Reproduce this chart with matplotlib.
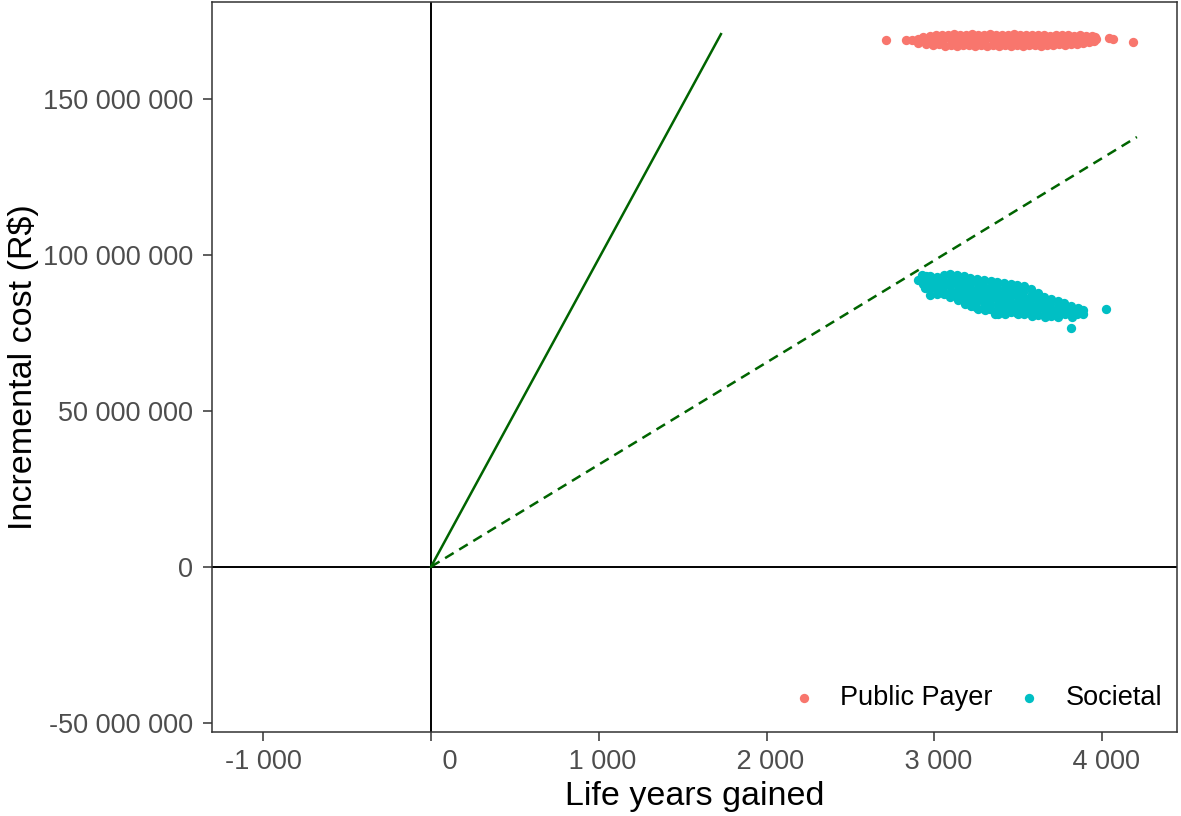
import numpy as np
import matplotlib
matplotlib.use("Agg")
import matplotlib.pyplot as plt

# ---------------- data ----------------
series_names = ["Public Payer", "Societal"]
series_colors = ["#F8766D", "#00BFC4"]

# Public Payer: life years gained / incremental cost (R$ millions)
pp_ly = [2710, 2831, 2868, 4038, 4062, 4185,
         2935, 2972, 3008, 3044, 3081, 3117, 3152, 3189, 3225, 3260,
         3296, 3333, 3368, 3404, 3440, 3475, 3511, 3547, 3582, 3618,
         3654, 3689, 3725, 3760, 3796, 3831, 3867, 3902, 3938, 3955,
         2905, 2941, 2978, 3012, 3049, 3086, 3120, 3157, 3193, 3228,
         3262, 3299, 3335, 3370, 3406, 3441, 3477, 3512, 3548, 3583,
         3619, 3655, 3690, 3726, 3761, 3797, 3832, 3868, 3903, 3940, 3962,
         2900, 2950, 2990, 3025, 3062, 3098, 3135, 3170, 3206, 3242,
         3278, 3313, 3350, 3386, 3421, 3457, 3493, 3528, 3564, 3600,
         3635, 3671, 3707, 3743, 3778, 3815, 3850, 3886, 3921, 3950]
pp_cost_mi = [168.9, 168.8, 169.0, 169.5, 169.2, 168.4,
              170.0, 170.3, 170.5, 170.6, 170.4, 170.7, 170.5, 170.6, 170.7, 170.4,
              170.6, 170.7, 170.5, 170.6, 170.4, 170.7, 170.5, 170.6, 170.4, 170.6,
              170.5, 170.3, 170.6, 170.4, 170.5, 170.3, 170.4, 170.2, 170.3, 170.0,
              169.2, 169.0, 169.3, 168.9, 169.1, 169.4, 168.8, 169.2, 169.0, 169.3,
              168.9, 169.1, 169.4, 169.0, 168.8, 169.2, 169.0, 169.3, 168.9, 169.1,
              169.2, 168.9, 169.1, 169.3, 169.0, 168.8, 169.2, 169.0, 169.1, 168.9, 169.2,
              168.0, 167.6, 167.3, 167.5, 167.1, 167.3, 167.0, 167.4, 167.2, 167.0,
              167.3, 167.1, 167.4, 167.0, 167.2, 167.1, 167.3, 167.0, 167.2, 167.4,
              167.1, 167.3, 167.2, 167.5, 167.3, 167.6, 167.6, 167.9, 168.2, 168.6]

# Societal
soc_ly = [2903, 2924, 2935,
          2950, 2946, 2942,
          2975, 2979, 2972, 2974,
          3015, 3018, 3012, 3016,
          3055, 3051, 3058, 3053, 3057,
          3095, 3099, 3092, 3097, 3094,
          3135, 3131, 3138, 3133, 3137, 3140,
          3175, 3179, 3172, 3177, 3174, 3180,
          3215, 3211, 3218, 3213, 3217, 3220,
          3255, 3259, 3252, 3257, 3254, 3250, 3262,
          3295, 3291, 3298, 3293, 3297, 3294, 3300,
          3335, 3339, 3332, 3337, 3334, 3331, 3361,
          3375, 3371, 3378, 3373, 3377, 3374, 3380,
          3415, 3419, 3412, 3417, 3414, 3411, 3421,
          3455, 3451, 3458, 3453, 3457, 3454,
          3495, 3499, 3492, 3497, 3494, 3491, 3500,
          3535, 3531, 3538, 3533, 3537, 3534,
          3575, 3579, 3572, 3577, 3574, 3580,
          3615, 3611, 3618, 3613, 3617,
          3655, 3659, 3652, 3657, 3660,
          3695, 3691, 3698, 3693,
          3735, 3739, 3732, 3737,
          3775, 3771, 3778,
          3815, 3811, 3818,
          3855, 3851,
          3888, 3885,
          4021, 3812]
soc_cost_mi = [91.9, 93.4, 90.8,
               93.2, 91.5, 89.5,
               93.1, 91.3, 89.3, 87.1,
               93.0, 91.2, 89.4, 87.6,
               93.5, 91.7, 89.9, 88.1, 87.3,
               93.8, 92.0, 90.2, 88.4, 86.6,
               93.6, 91.8, 90.0, 88.2, 86.4, 85.4,
               93.2, 91.4, 89.6, 87.8, 86.0, 84.3,
               92.7, 90.9, 89.1, 87.3, 85.5, 83.6,
               92.4, 90.6, 88.8, 87.0, 85.2, 83.4, 82.8,
               92.0, 90.2, 88.4, 86.6, 84.8, 83.0, 82.3,
               91.6, 89.8, 88.0, 86.2, 84.4, 82.6, 81.0,
               91.2, 89.4, 87.6, 85.8, 84.0, 82.2, 81.0,
               90.9, 89.1, 87.3, 85.5, 83.7, 81.9, 81.2,
               90.6, 88.8, 87.0, 85.2, 83.4, 81.6,
               90.4, 88.6, 86.8, 85.0, 83.2, 81.4, 80.9,
               89.9, 88.1, 86.3, 84.5, 82.7, 80.9,
               89.1, 87.3, 85.5, 83.7, 81.9, 80.4,
               87.8, 86.0, 84.2, 82.4, 80.6,
               86.6, 84.8, 83.0, 81.2, 80.1,
               85.9, 84.1, 82.3, 80.5,
               85.2, 83.4, 81.6, 80.1,
               84.6, 82.8, 81.0,
               83.7, 81.9, 80.2,
               83.0, 81.2,
               82.3, 80.9,
               82.6, 76.5]

# willingness-to-pay threshold lines (start/end points)
wtp_high_ly = [0, 1728]
wtp_high_cost = [0, 170.8e6]
wtp_low_ly = [0, 4207]
wtp_low_cost = [0, 137.8e6]

x_ticks = [-1000, 0, 1000, 2000, 3000, 4000]
x_tick_labels = ["-1 000", "     0", " 1 000", " 2 000", " 3 000", " 4 000"]
y_ticks = [-50e6, 0, 50e6, 100e6, 150e6]
y_tick_labels = ["-50 000 000", "0", "50 000 000", "100 000 000", "150 000 000"]

# ---------------- plot ----------------
plt.rcParams['font.family'] = ['Liberation Sans', 'DejaVu Sans']

W, H = 1181, 816
fig = plt.figure(figsize=(W / 100, H / 100), dpi=100)
L, R, T, B = 211.7, 1177, 2, 732
ax = fig.add_axes([L / W, (H - B) / H, (R - L) / W, (B - T) / H])

ax.axhline(0, color="black", lw=1.4, zorder=1)
ax.axvline(0, color="black", lw=1.4, zorder=1)

ax.plot(wtp_high_ly, wtp_high_cost, color="#006400", lw=1.8, zorder=2)
ax.plot(wtp_low_ly, wtp_low_cost, color="#006400", lw=1.8,
        linestyle=(0, (4, 2.6)), zorder=2)

ax.scatter(pp_ly, np.array(pp_cost_mi) * 1e6, s=45, color=series_colors[0],
           linewidths=0, label=series_names[0], zorder=3)
ax.scatter(soc_ly, np.array(soc_cost_mi) * 1e6, s=45, color=series_colors[1],
           linewidths=0, label=series_names[1], zorder=3)

ax.set_xlim(-1307, 4446)
ax.set_ylim(-53.0e6, 181.1e6)

ax.set_xticks(x_ticks)
ax.set_xticklabels(x_tick_labels)
ax.set_yticks(y_ticks)
ax.set_yticklabels(y_tick_labels)

ax.tick_params(axis="both", colors="#333333", labelcolor="#4D4D4D",
               labelsize=19.5, length=6.5, width=1.1)
ax.tick_params(axis="y", pad=7)
ax.tick_params(axis="x", pad=5.5)

for sp in ax.spines.values():
    sp.set_color("#333333")
    sp.set_linewidth(1.1)

ax.set_xlabel("Life years gained", fontsize=24.5, color="black")
ax.xaxis.set_label_coords(0.5, (B - 805) / (B - T))
ax.xaxis.label.set_va("baseline")
ax.set_ylabel("Incremental cost (R$)", fontsize=24.5, color="black")
ax.yaxis.set_label_coords((32 - L) / (R - L), 0.5)
ax.yaxis.label.set_va("baseline")

leg = ax.legend(loc="center right", ncol=2, frameon=False,
                bbox_to_anchor=((1162 - L) / (R - L), (B - 698) / (B - T)),
                fontsize=19.5, handlelength=1.0, handletextpad=0.83,
                columnspacing=0.87, borderpad=0, borderaxespad=0,
                scatterpoints=1)

fig.savefig("out.png", dpi=100)
